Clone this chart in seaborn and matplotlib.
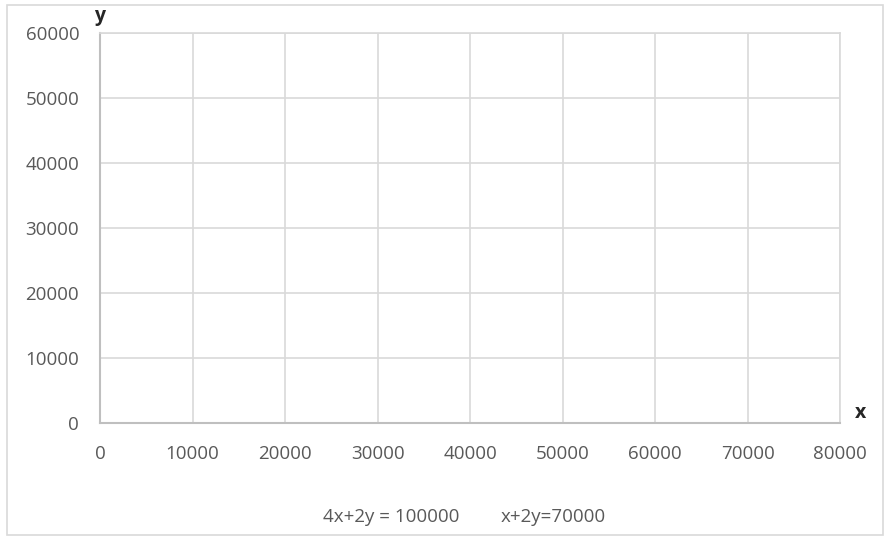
import matplotlib
matplotlib.use("Agg")
import matplotlib.pyplot as plt
import seaborn as sns
from matplotlib.patches import Rectangle

# axis ranges / ticks
x_ticks = [0, 10000, 20000, 30000, 40000, 50000, 60000, 70000, 80000]
y_ticks = [0, 10000, 20000, 30000, 40000, 50000, 60000]

# series shown in the legend (no points plotted in the original)
series_names = ["4x+2y = 100000", "x+2y=70000"]
series_x = [[], []]
series_y = [[], []]

sns.set_style("whitegrid")
plt.rcParams['font.family'] = ['Open Sans', 'DejaVu Sans']

fig = plt.figure(figsize=(8.84, 5.37), dpi=100)
ax = fig.add_axes([100 / 884, 1 - 423 / 537, 740 / 884, 390 / 537])

for name, xs, ys in zip(series_names, series_x, series_y):
    ax.plot(xs, ys, label=name, color='none')

ax.set_xlim(x_ticks[0], x_ticks[-1])
ax.set_ylim(y_ticks[0], y_ticks[-1])
ax.set_xticks(x_ticks)
ax.set_yticks(y_ticks)
ax.tick_params(axis='both', labelsize=13.5, colors='#595959', length=0)
ax.tick_params(axis='y', pad=15)
ax.tick_params(axis='x', pad=16)
ax.grid(True, color='#d9d9d9', linewidth=1.2)

for side in ['top', 'right']:
    ax.spines[side].set_color('#d9d9d9')
    ax.spines[side].set_linewidth(1.2)
for side in ['left', 'bottom']:
    ax.spines[side].set_color('#bfbfbf')
    ax.spines[side].set_linewidth(1.5)

# axis names
fig.text(100 / 884, 1 - 16 / 537, 'y', fontsize=14, fontweight='bold', ha='center', va='center')
fig.text(861 / 884, 1 - 413 / 537, 'x', fontsize=14, fontweight='bold', ha='center', va='center')

leg = ax.legend(loc='center', bbox_to_anchor=(464 / 884, 1 - 517 / 537),
                bbox_transform=fig.transFigure, ncol=2, frameon=False,
                handlelength=0, handletextpad=0, columnspacing=2.2, fontsize=13.5)
for t in leg.get_texts():
    t.set_color('#595959')

# outer chart border
fig.patches.append(Rectangle((7 / 884, 1 - 535 / 537), 876 / 884, 530 / 537,
                             transform=fig.transFigure, fill=False,
                             edgecolor='#d9d9d9', linewidth=1.2))

fig.savefig('out.png', dpi=100)
